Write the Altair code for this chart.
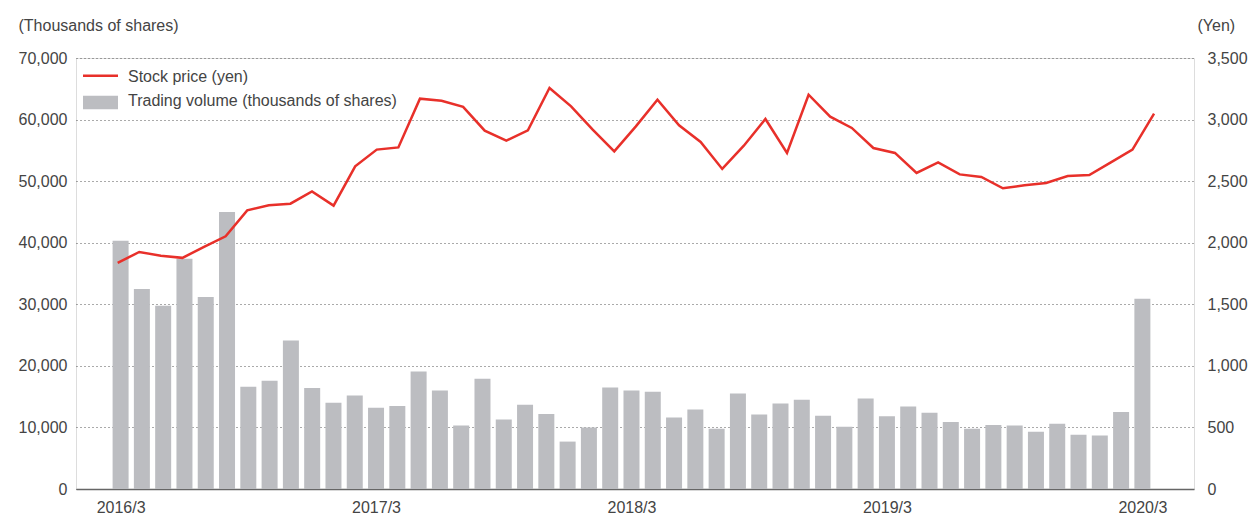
import altair as alt
import pandas as pd

# Monthly trading volume (thousands of shares), 2016/3 .. 2020/3
volume = [40300, 32500, 29750, 37400, 31200, 45000, 16600, 17600, 24100, 16400,
          14000, 15200, 13200, 13500, 19100, 16000, 10300, 17900, 11300, 13700,
          12200, 7700, 10000, 16500, 16000, 15800, 11600, 12900, 9800, 15500,
          12100, 13900, 14500, 11900, 10100, 14700, 11800, 13400, 12400, 10900,
          9800, 10400, 10300, 9300, 10600, 8800, 8700, 12500, 30900]
# Monthly stock price (yen)
price = [1836, 1925, 1895, 1877, 1966, 2052, 2263, 2304, 2317, 2417,
         2301, 2620, 2756, 2774, 3170, 3153, 3103, 2910, 2829, 2912,
         3256, 3107, 2918, 2742, 2945, 3162, 2953, 2818, 2599, 2788,
         3005, 2729, 3202, 3024, 2932, 2769, 2729, 2567, 2653, 2555,
         2534, 2442, 2466, 2485, 2542, 2550, 2653, 2756, 3048]
month_index = list(range(len(volume)))
tick_values = [0, 12, 24, 36, 48]
tick_labels = ["2016/3", "2017/3", "2018/3", "2019/3", "2020/3"]
left_ticks = [0, 10000, 20000, 30000, 40000, 50000, 60000, 70000]
right_ticks = [0, 500, 1000, 1500, 2000, 2500, 3000, 3500]
legend_labels = ["Stock price (yen)", "Trading volume (thousands of shares)"]

df = pd.DataFrame({"idx": month_index, "volume": volume, "price": price})

FONT = "Liberation Sans"
TXT = "#444444"
RED = "#e8302a"
GRAY = "#bcbdc1"
FS = 16

label_expr = "[" + ",".join("'%s'" % t for t in tick_labels) + "][datum.value/12]"

base = alt.Chart(df)

bars = base.mark_bar(color=GRAY, width=16).encode(
    x=alt.X("idx:Q",
            scale=alt.Scale(domain=[-1.86, 50.19], nice=False, zero=False),
            axis=alt.Axis(values=tick_values, labelExpr=label_expr, title=None,
                          grid=False, ticks=False, tickSize=0, domain=True,
                          domainColor="#666666", domainWidth=1.5, labelPadding=10,
                          labelFontSize=FS, labelColor=TXT, labelFont=FONT)),
    y=alt.Y("volume:Q",
            scale=alt.Scale(domain=[0, 70000], nice=False),
            axis=alt.Axis(orient="left", values=left_ticks, format=",.0f",
                          title="(Thousands of shares)", titleAngle=0, titleX=-58,
                          titleY=-28, titleAlign="left", titleBaseline="alphabetic",
                          titleFontSize=FS, titleFontWeight="normal", titleColor=TXT,
                          titleFont=FONT, grid=True, gridDash=[1, 3],
                          gridColor="#555555", gridWidth=1, ticks=False, tickSize=0,
                          domain=False, labelPadding=9, labelFontSize=FS,
                          labelColor=TXT, labelFont=FONT)),
)

line = base.mark_line(color=RED, strokeWidth=2.5).encode(
    x=alt.X("idx:Q", scale=alt.Scale(domain=[-1.93, 49.85], nice=False, zero=False),
            axis=None),
    y=alt.Y("price:Q",
            scale=alt.Scale(domain=[0, 3500], nice=False),
            axis=alt.Axis(orient="right", values=right_ticks, format=",.0f",
                          title="(Yen)", titleAngle=0, titleX=3, titleY=-28,
                          titleAlign="left", titleBaseline="alphabetic",
                          titleFontSize=FS, titleFontWeight="normal", titleColor=TXT,
                          titleFont=FONT, grid=False, ticks=False, tickSize=0,
                          domain=False, labelPadding=13, labelFontSize=FS,
                          labelColor=TXT, labelFont=FONT)),
)

one = alt.Data(values=[{"k": 1}])
leg_line = alt.Chart(one).mark_rule(color=RED, strokeWidth=2.5).encode(
    x=alt.value(7), x2=alt.value(42), y=alt.value(17.7))
leg_rect = alt.Chart(one).mark_rect(color=GRAY).encode(
    x=alt.value(7), x2=alt.value(42), y=alt.value(37.7), y2=alt.value(51.3))
leg_t1 = alt.Chart(one).mark_text(align="left", baseline="alphabetic", fontSize=FS,
                                  font=FONT, color=TXT, text=legend_labels[0]).encode(
    x=alt.value(52), y=alt.value(24))
leg_t2 = alt.Chart(one).mark_text(align="left", baseline="alphabetic", fontSize=FS,
                                  font=FONT, color=TXT, text=legend_labels[1]).encode(
    x=alt.value(52), y=alt.value(48))

chart = alt.layer(bars, line, leg_line, leg_rect, leg_t1, leg_t2).resolve_scale(
    y="independent", x="independent"
).properties(
    width=1118, height=431,
    autosize=alt.AutoSizeParams(type="none"),
    padding={"left": 68, "top": 50, "right": 54, "bottom": 29},
).configure_view(stroke=None).configure(background="white")

chart.save("out.html", embed_options={"renderer": "svg", "actions": False})
